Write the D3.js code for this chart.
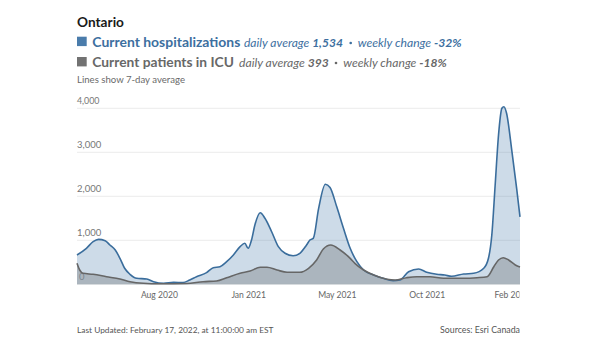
<!DOCTYPE html>
<html>
<head>
<meta charset="utf-8">
<script src="https://cdn.jsdelivr.net/npm/d3@7"></script>
<style>
  html, body { margin: 0; padding: 0; background: #fff; }
  svg { display: block; font-family: Lato, "Open Sans", sans-serif; }
</style>
</head>
<body>
<svg id="chart" width="611" height="351"></svg>
<script>
// ---- data ----
const hospDates = ["2020-04-28","2020-05-12","2020-05-22","2020-05-30","2020-06-09","2020-06-16","2020-06-24","2020-07-01","2020-07-08","2020-07-16","2020-07-26","2020-08-10","2020-08-20","2020-09-04","2020-09-19","2020-10-03","2020-10-13","2020-10-23","2020-11-07","2020-11-17","2020-11-27","2020-12-07","2020-12-17","2020-12-27","2021-01-03","2021-01-08","2021-01-13","2021-01-18","2021-01-26","2021-02-02","2021-02-12","2021-02-22","2021-03-04","2021-03-16","2021-03-26","2021-04-05","2021-04-10","2021-04-15","2021-04-23","2021-05-03","2021-05-10","2021-05-20","2021-05-30","2021-06-09","2021-06-19","2021-06-29","2021-07-14","2021-07-28","2021-08-12","2021-08-22","2021-09-04","2021-09-19","2021-10-01","2021-10-16","2021-10-28","2021-11-07","2021-11-25","2021-12-10","2021-12-25","2022-01-01","2022-01-06","2022-01-11","2022-01-16","2022-01-21","2022-01-24","2022-01-28","2022-02-05","2022-02-12","2022-02-17"];
const hospValues = [666,818,968,1022,991,893,780,590,364,227,136,120,59,23,45,40,98,173,264,377,400,514,666,855,932,818,1007,1348,1627,1500,1195,855,705,650,705,893,1007,1045,1727,2273,2200,1760,1273,818,514,325,211,136,82,98,286,348,273,227,211,182,234,250,364,591,1120,2257,3393,4000,4036,3886,3014,2182,1534];

const icuDates = ["2020-04-28","2020-05-02","2020-05-07","2020-05-22","2020-06-11","2020-07-01","2020-07-16","2020-08-05","2020-08-30","2020-10-08","2020-11-02","2020-11-22","2020-12-07","2020-12-27","2021-01-11","2021-01-26","2021-02-05","2021-02-20","2021-03-07","2021-03-26","2021-04-08","2021-04-20","2021-04-30","2021-05-11","2021-05-25","2021-06-09","2021-06-16","2021-06-29","2021-07-14","2021-08-03","2021-08-15","2021-09-01","2021-09-16","2021-10-06","2021-10-26","2021-11-25","2021-12-15","2021-12-30","2022-01-09","2022-01-16","2022-01-23","2022-01-31","2022-02-10","2022-02-17"];
const icuValues = [477,325,250,227,173,120,59,23,11,17,59,75,150,250,302,386,386,325,273,273,364,552,802,893,780,590,477,325,211,114,98,150,173,173,136,136,150,173,400,552,605,552,439,393];

const yTicks = [0, 1000, 2000, 3000, 4000];
const xTickDates = ["2020-08-28","2021-01-08","2021-05-20","2021-10-01","2022-02-05"];
const domainDates = ["2020-04-28","2022-02-17"];

const seriesNames = ["Current hospitalizations", "Current patients in ICU"];
const dailyAvg = ["1,534", "393"];
const weeklyChange = ["-32%", "-18%"];

// ---- drawing ----
(function () {
const parse = d3.timeParse("%Y-%m-%d");
const svg = d3.select("#chart");
const W = 611, H = 351;
const pL = 77, pR = 520, pT = 108.3, pB = 284.3;

// scale a text's font-size so that it spans the wanted width
function fit(sel, w) {
  const fs = +sel.attr("font-size");
  const cur = sel.node().getComputedTextLength();
  if (cur > 0) sel.attr("font-size", (fs * w / cur).toFixed(2));
  return sel;
}

const x = d3.scaleTime().domain(domainDates.map(parse)).range([pL, pR]);
const y = d3.scaleLinear().domain([0, 4000]).range([pB, pT]);

const hosp = hospDates.map((d, i) => ({ date: parse(d), v: hospValues[i] }));
const icu = icuDates.map((d, i) => ({ date: parse(d), v: icuValues[i] }));

// title
fit(svg.append("text").attr("x", 77).attr("y", 26.5)
  .attr("font-size", 15).attr("font-weight", 700).attr("fill", "#1a1a1a")
  .text("Ontario"), 47);

const colors = ["#3d6f9f", "#686868"];
const sqColors = ["#4a7cab", "#727272"];
const layout = [
  { base: 46.6, cy: 41.4, name: 148, avgX: 244, avgW: 99, dot: 350.7, chX: 357.7, chW: 104 },
  { base: 66.6, cy: 61.7, name: 141.7, avgX: 239, avgW: 90, dot: 336, chX: 343.3, chW: 103.4 }
];
[0, 1].forEach(i => {
  const L = layout[i];
  svg.append("rect").attr("x", 77).attr("y", L.cy - 4.7).attr("width", 9.7).attr("height", 9.4)
    .attr("fill", sqColors[i]);
  fit(svg.append("text").attr("x", 92.3).attr("y", L.base).attr("fill", colors[i])
    .attr("font-size", 14).attr("font-weight", 700).text(seriesNames[i]), L.name);
  const a = svg.append("text").attr("x", L.avgX).attr("y", L.base).attr("fill", colors[i])
    .attr("font-size", 12).attr("font-style", "italic");
  a.append("tspan").text("daily average ");
  a.append("tspan").attr("font-weight", 700).text(dailyAvg[i]);
  fit(a, L.avgW);
  svg.append("circle").attr("cx", L.dot).attr("cy", L.base - 3.6).attr("r", 1.3).attr("fill", colors[i]);
  const c = svg.append("text").attr("x", L.chX).attr("y", L.base).attr("fill", colors[i])
    .attr("font-size", 12).attr("font-style", "italic");
  c.append("tspan").text("weekly change ");
  c.append("tspan").attr("font-weight", 700).text(weeklyChange[i]);
  fit(c, L.chW);
});

fit(svg.append("text").attr("x", 77).attr("y", 82.5).attr("font-size", 9.5).attr("fill", "#6a6a6a")
  .text("Lines show 7-day average"), 108);

// grid + y labels (drawn under the translucent areas)
const grid = svg.append("g");
yTicks.forEach(t => {
  grid.append("line").attr("x1", pL).attr("x2", pR).attr("y1", y(t)).attr("y2", y(t))
    .attr("stroke", "#ececec").attr("stroke-width", 1);
  const lbl = grid.append("text").attr("x", t === 0 ? 79 : pL).attr("y", y(t) - 4.3).attr("font-size", 9.5)
    .attr("fill", "#777").attr("stroke", "#fff").attr("stroke-width", 2).attr("paint-order", "stroke")
    .text(d3.format(",")(t));
  if (t === 4000) fit(lbl, 22.5);
});

// areas
const area = d3.area().x(d => x(d.date)).y0(y(0)).y1(d => y(d.v)).curve(d3.curveMonotoneX);
const line = d3.line().x(d => x(d.date)).y(d => y(d.v)).curve(d3.curveMonotoneX);

svg.append("path").datum(hosp).attr("d", area).attr("fill", "#4a7cab").attr("fill-opacity", 0.28);
svg.append("path").datum(icu).attr("d", area).attr("fill", "#8a8f94").attr("fill-opacity", 0.5);
svg.append("path").datum(hosp).attr("d", line).attr("fill", "none").attr("stroke", "#3a6d9c").attr("stroke-width", 1.6);
svg.append("path").datum(icu).attr("d", line).attr("fill", "none").attr("stroke", "#666").attr("stroke-width", 1.6);

// x axis (last label is cut at the plot's right edge, as in the original)
svg.append("clipPath").attr("id", "xclip").append("rect")
  .attr("x", 0).attr("y", 0).attr("width", 519.5).attr("height", H);
const fmt = d3.timeFormat("%b %Y");
const xg = svg.append("g").attr("transform", `translate(0,${pB})`).attr("clip-path", "url(#xclip)")
  .call(d3.axisBottom(x).tickValues(xTickDates.map(parse)).tickFormat(fmt).tickSize(0).tickPadding(8));
xg.select(".domain").remove();
xg.selectAll("text").attr("font-size", 10).attr("fill", "#666").attr("font-family", "Lato, 'Open Sans', sans-serif");
const first = xg.select(".tick text");
const fs0 = 10 * 37 / first.node().getComputedTextLength();
xg.selectAll("text").attr("font-size", fs0.toFixed(2));

// footer
fit(svg.append("text").attr("x", 77).attr("y", 333).attr("font-size", 9.5).attr("fill", "#555")
  .text("Last Updated: February 17, 2022, at 11:00:00 am EST"), 196.6);
fit(svg.append("text").attr("x", 520).attr("y", 333).attr("font-size", 9.5).attr("fill", "#555")
  .attr("text-anchor", "end").text("Sources: Esri Canada"), 80);
})();
</script>
</body>
</html>
